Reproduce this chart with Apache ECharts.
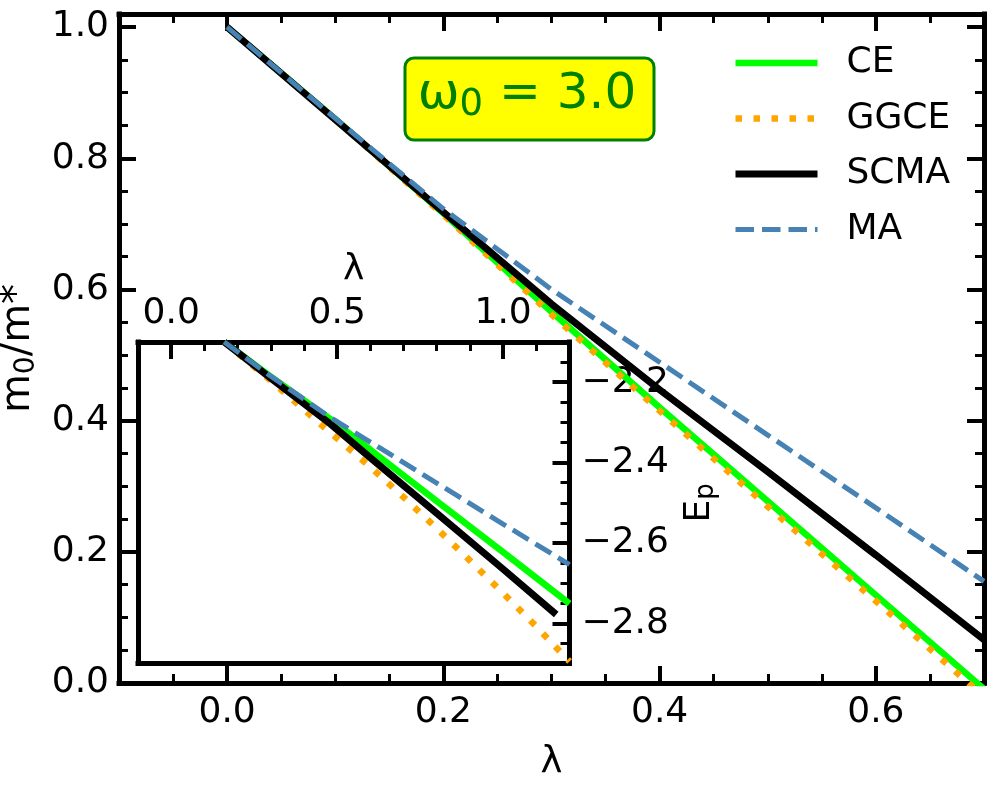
<!DOCTYPE html>
<html>
<head>
<meta charset="utf-8">
<script src="https://cdn.jsdelivr.net/npm/echarts@6.0.0/dist/echarts.min.js"></script>
<style>
  html, body { margin: 0; padding: 0; background: #fff; }
  #chart { width: 997px; height: 795px; }
</style>
</head>
<body>
<div id="chart"></div>
<script>
// main panel: m0/m* against lambda
const lam      = [0.0, 0.1, 0.2, 0.3, 0.4, 0.5, 0.6, 0.7];
const ceMain   = [1.000, 0.860, 0.716, 0.566, 0.420, 0.277, 0.134, -0.009];
const ggceMain = [1.000, 0.859, 0.714, 0.562, 0.415, 0.269, 0.125, -0.021];
const scmaMain = [1.000, 0.859, 0.718, 0.578, 0.447, 0.322, 0.195, 0.066];
const maMain   = [1.000, 0.861, 0.723, 0.600, 0.489, 0.378, 0.267, 0.155];

// inset: polaron energy E_p against lambda
const ceLamIn   = [0.16, 0.3, 0.48, 0.6, 0.8, 1.0, 1.2];
const ceIn      = [-2.100, -2.186, -2.292, -2.368, -2.496, -2.623, -2.751];
const ggceLamIn = [0.16, 0.3, 0.48, 0.6, 0.7, 0.8, 0.9, 1.0, 1.1, 1.2];
const ggceIn    = [-2.100, -2.196, -2.326, -2.411, -2.486, -2.564, -2.644, -2.725, -2.808, -2.895];
const scmaLamIn = [0.16, 0.3, 0.48, 0.6, 0.8, 1.0, 1.16];
const scmaIn    = [-2.100, -2.190, -2.304, -2.388, -2.526, -2.665, -2.778];
const maLamIn   = [0.16, 0.3, 0.48, 0.6, 0.8, 1.0, 1.2];
const maIn      = [-2.100, -2.185, -2.288, -2.349, -2.451, -2.553, -2.654];

// tick labels
const mainXTicks  = [0.0, 0.2, 0.4, 0.6];
const mainYTicks  = [0.0, 0.2, 0.4, 0.6, 0.8, 1.0];
const insetXTicks = [0.0, 0.5, 1.0];
const insetYTicks = [-2.8, -2.6, -2.4, -2.2];

const FONT = 'DejaVu Sans';
const pairs = (xs, ys) => xs.map((x, i) => [x, ys[i]]);
const fmt1 = v => (v < 0 ? '\u2212' : '') + Math.abs(v).toFixed(1);

const spine = w => ({ show: true, onZero: false, lineStyle: { color: '#000', width: w, cap: 'square' } });
const noLine = { show: false, onZero: false };
const minorTick = len => ({ show: true, inside: true, length: len, lineStyle: { color: '#000', width: 3 } });
const majorTick = (len, vals) => ({ show: true, inside: true, length: len, customValues: vals, lineStyle: { color: '#000', width: 4 } });
const lbl = (vals, margin) => ({ show: true, customValues: vals, formatter: fmt1, margin: margin,
  fontSize: 36, color: '#000', fontFamily: FONT });
const off = { show: false };

// one axis = spine + minor ticks + labels, a second one on top of it carries the long ticks
function axisPair(grid, pos, min, max, step, majors, showLabels, margin, extra) {
  const a = Object.assign({
    type: 'value', gridIndex: grid, position: pos, min: min, max: max, interval: step,
    axisLine: spine(5), axisTick: minorTick(9),
    axisLabel: showLabels ? lbl(majors, margin) : off,
    splitLine: off
  }, extra || {});
  const b = {
    type: 'value', gridIndex: grid, position: pos, min: min, max: max,
    axisLine: noLine, axisTick: majorTick(17, majors), axisLabel: off, splitLine: off
  };
  return [a, b];
}

const richSub = (big, small, lhBig, lhSmall) => ({
  a: { fontSize: big, lineHeight: lhBig, fontFamily: FONT, color: '#000' },
  s: { fontSize: small, lineHeight: lhSmall, verticalAlign: 'bottom', fontFamily: FONT, color: '#000' }
});

const xAxes = [].concat(
  axisPair(0, 'bottom', -0.1, 0.7, 0.05, mainXTicks, true, 12, {
    name: 'λ', nameLocation: 'middle', nameGap: 62,
    nameTextStyle: { fontSize: 37, color: '#000', fontFamily: FONT }
  }),
  axisPair(0, 'top', -0.1, 0.7, 0.05, mainXTicks, false, 0),
  axisPair(1, 'top', -0.1, 1.2, 0.1, insetXTicks, true, 10, {
    name: 'λ', nameLocation: 'middle', nameGap: 54,
    nameTextStyle: { fontSize: 36, color: '#000', fontFamily: FONT }
  }),
  [{ type: 'value', gridIndex: 1, position: 'bottom', min: -0.1, max: 1.2,
     axisLine: spine(5), axisTick: off, axisLabel: off, splitLine: off }]
);

const yAxes = [].concat(
  axisPair(0, 'left', 0, 1.02, 0.05, mainYTicks, true, 10, {
    name: '{a|m}{s|0}{a|/m*}', nameLocation: 'middle', nameGap: 66, nameRotate: 90,
    nameTextStyle: { rich: richSub(40, 28, 44, 28) }
  }),
  axisPair(0, 'right', 0, 1.02, 0.05, mainYTicks, false, 0),
  axisPair(1, 'right', -2.9, -2.1, 0.05, insetYTicks, true, 12, {
    name: '{a|E}{s|p}', nameLocation: 'middle', nameGap: 110, nameRotate: 90,
    nameTextStyle: { rich: richSub(36, 26, 40, 26) }
  }),
  [{ type: 'value', gridIndex: 1, position: 'left', min: -2.9, max: -2.1,
     axisLine: spine(5), axisTick: off, axisLabel: off, splitLine: off }]
);

const styles = {
  CE:   { color: '#00ff00', width: 6.5, type: 'solid' },
  GGCE: { color: '#ffa500', width: 6.5, type: [6.5, 11.5] },
  SCMA: { color: '#000000', width: 7,   type: 'solid' },
  MA:   { color: '#4682b4', width: 5,   type: [18.5, 8] }
};

function line(name, data, xi, yi) {
  const s = styles[name];
  return {
    name: name, type: 'line', xAxisIndex: xi, yAxisIndex: yi, data: data,
    symbol: 'none', smooth: false, animation: false,
    lineStyle: { color: s.color, width: s.width, type: s.type },
    itemStyle: { color: s.color }
  };
}

const series = [
  line('CE',   pairs(lam, ceMain), 0, 0),
  line('GGCE', pairs(lam, ggceMain), 0, 0),
  line('SCMA', pairs(lam, scmaMain), 0, 0),
  line('MA',   pairs(lam, maMain), 0, 0),
  line('CE',   pairs(ceLamIn, ceIn), 4, 4),
  line('GGCE', pairs(ggceLamIn, ggceIn), 4, 4),
  line('SCMA', pairs(scmaLamIn, scmaIn), 4, 4),
  line('MA',   pairs(maLamIn, maIn), 4, 4)
];

const chart = echarts.init(document.getElementById('chart'), null, { renderer: 'canvas' });
chart.setOption({
  backgroundColor: '#fff',
  animation: false,
  grid: [
    { left: 119, top: 14, width: 865, height: 669, outerBoundsMode: 'none' },
    { left: 138, top: 342, width: 431.5, height: 321.5, show: true,
      backgroundColor: '#fff', borderWidth: 0, outerBoundsMode: 'none' }
  ],
  xAxis: xAxes,
  yAxis: yAxes,
  legend: {
    data: ['CE', 'GGCE', 'SCMA', 'MA'],
    orient: 'vertical', left: 732, top: 43, padding: 0,
    itemWidth: 82, itemHeight: 2, itemGap: 15.5,
    selectedMode: false,
    itemStyle: { opacity: 0 },
    lineStyle: { width: 'inherit' },
    textStyle: { fontSize: 36, lineHeight: 40, color: '#000', fontFamily: FONT, padding: [0, 0, 0, 24] }
  },
  graphic: [
    { type: 'rect', z: 10, shape: { x: 405, y: 58, width: 249, height: 82, r: 9 },
      style: { fill: '#ffff00', stroke: '#008000', lineWidth: 3 } },
    { type: 'text', z: 11, x: 527, y: 95,
      style: {
        text: '{w|ω}{s|0}{w| = 3.0}',
        align: 'center', verticalAlign: 'middle',
        textAlign: 'center', textVerticalAlign: 'middle',
        fill: '#008000',
        rich: {
          w: { fontSize: 50, lineHeight: 57, fontFamily: FONT, fill: '#008000', color: '#008000' },
          s: { fontSize: 37, lineHeight: 37, verticalAlign: 'bottom', fontFamily: FONT, fill: '#008000', color: '#008000' }
        }
      } }
  ],
  series: series
});
window.addEventListener('resize', chart.resize);
</script>
</body>
</html>
